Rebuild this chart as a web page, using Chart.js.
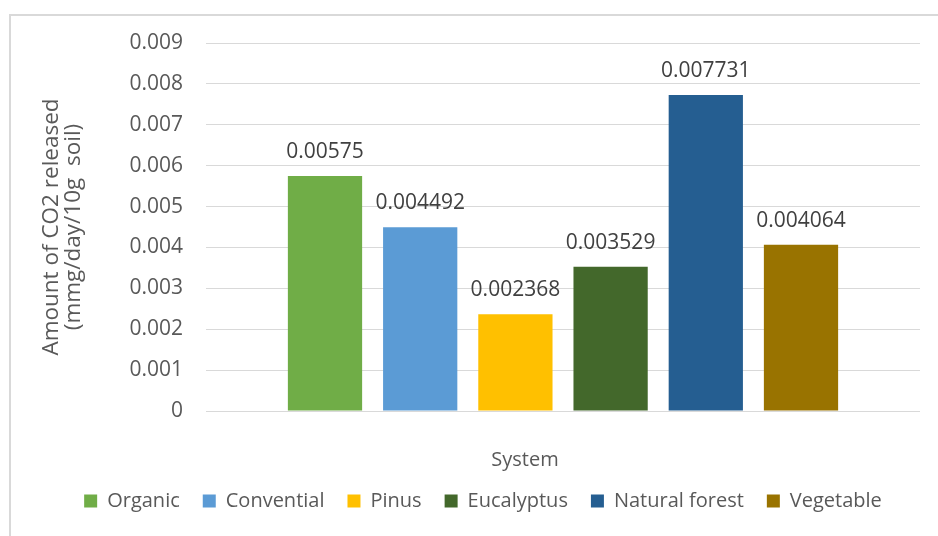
<!DOCTYPE html>
<html>
<head>
<meta charset="utf-8">
<script src="https://cdn.jsdelivr.net/npm/chart.js@4/dist/chart.umd.min.js"></script>
<style>
  html, body { margin: 0; padding: 0; background: #fff; overflow: hidden; }
  #wrap { position: relative; width: 938px; height: 536px; }
  #frame { position: absolute; left: 9px; top: 14px; width: 980px; height: 580px;
           border: 2px solid #d9d9d9; box-sizing: border-box; }
  canvas { position: absolute; left: 0; top: 0; }
</style>
</head>
<body>
<div id="wrap">
  <div id="frame"></div>
  <canvas id="c" width="938" height="536"></canvas>
</div>
<script>
// CO2 released per soil system
const systems = ['Organic', 'Convential', 'Pinus', 'Eucalyptus', 'Natural forest', 'Vegetable'];
const co2Released = [0.00575, 0.004492, 0.002368, 0.003529, 0.007731, 0.004064];
const barColors = ['#70AD47', '#5B9BD5', '#FFC000', '#43682B', '#255E91', '#997300'];
const yTickLabels = ['0', '0.001', '0.002', '0.003', '0.004', '0.005', '0.006', '0.007', '0.008', '0.009'];
const xTitle = 'System';
const yTitle = ['Amount of CO2 released', '(mmg/day/10g  soil)'];

const FONT = '"Open Sans", "Liberation Sans", sans-serif';
const TEXT = '#595959';

// value printed above each bar
const valueLabels = {
  id: 'valueLabels',
  afterDatasetsDraw(chart) {
    const ctx = chart.ctx;
    ctx.save();
    ctx.font = '21px ' + FONT;
    ctx.fillStyle = '#404040';
    ctx.textAlign = 'center';
    ctx.textBaseline = 'middle';
    chart.data.datasets.forEach((ds, i) => {
      chart.getDatasetMeta(i).data.forEach((bar, j) => {
        ctx.fillText(String(ds.data[j]), bar.x, bar.y - 24);
      });
    });
    ctx.restore();
  }
};

// horizontal axis title, placed a little left of the plot centre
const xAxisTitle = {
  id: 'xAxisTitle',
  afterDraw(chart) {
    const ctx = chart.ctx, a = chart.chartArea;
    ctx.save();
    ctx.font = '20px ' + FONT;
    ctx.fillStyle = TEXT;
    ctx.textAlign = 'center';
    ctx.textBaseline = 'middle';
    ctx.fillText(xTitle, (a.left + a.right) / 2 - 38, a.bottom + 49);
    ctx.restore();
  }
};

new Chart(document.getElementById('c'), {
  type: 'bar',
  data: {
    labels: [xTitle],
    datasets: systems.map((name, i) => ({
      label: name,
      data: [co2Released[i]],
      backgroundColor: barColors[i],
      borderWidth: 0,
      categoryPercentage: 0.8,
      barPercentage: 0.78
    }))
  },
  options: {
    responsive: false,
    animation: false,
    devicePixelRatio: 1,
    layout: { padding: { left: 46, top: 43, right: 18, bottom: 15 } },
    plugins: {
      tooltip: { enabled: false },
      legend: {
        position: 'bottom',
        labels: {
          boxWidth: 13,
          boxHeight: 13,
          padding: 23,
          color: TEXT,
          font: { family: FONT, size: 20 }
        }
      }
    },
    scales: {
      x: {
        ticks: { display: false },
        grid: { display: false },
        border: { display: false },
        afterFit(scale) { scale.height = 57; }
      },
      y: {
        min: 0,
        max: 0.009,
        ticks: {
          stepSize: 0.001,
          padding: 23,
          color: TEXT,
          font: { family: FONT, size: 21 },
          callback: (v, i) => yTickLabels[i]
        },
        grid: { color: '#d9d9d9', lineWidth: 1, drawTicks: false },
        border: { display: false },
        title: {
          display: true,
          text: yTitle,
          color: TEXT,
          font: { family: FONT, size: 22.5, lineHeight: 0.98 },
          padding: { top: -5, bottom: 0 }
        },
        afterFit(scale) { scale.width = 160; }
      }
    }
  },
  plugins: [valueLabels, xAxisTitle]
});
</script>
</body>
</html>
